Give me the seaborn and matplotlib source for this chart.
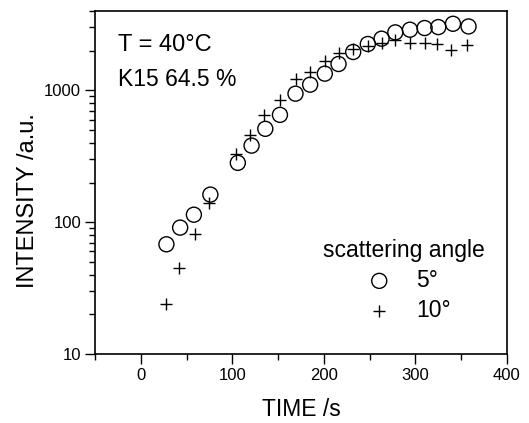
import matplotlib
matplotlib.use("Agg")
import matplotlib.pyplot as plt
from matplotlib.ticker import FixedLocator, NullFormatter, LogLocator
import seaborn as sns
import pandas as pd
import numpy as np

# data
time_5 = [28, 43, 58, 76, 106, 121, 136, 152, 169, 185, 201, 216, 232, 248, 263, 278, 294, 310, 325, 341, 358]
int_5 = [68, 91, 114, 162, 282, 381, 511, 652, 944, 1105, 1339, 1585, 1955, 2248, 2466, 2754, 2885, 2970, 3020, 3200, 3054]
time_10 = [28, 42, 59, 75, 104, 119, 135, 152, 169, 185, 201, 216, 232, 248, 263, 278, 294, 310, 324, 339, 356]
int_10 = [24, 45, 81, 140, 331, 461, 655, 850, 1219, 1369, 1679, 1919, 2060, 2183, 2287, 2393, 2287, 2287, 2260, 2010, 2193]
angle_labels = ["5°", "10°"]
x_ticks = [0, 100, 200, 300, 400]
y_ticks = [10, 100, 1000]

sns.set_theme(style="ticks")
plt.rcParams['font.family'] = ['Liberation Sans', 'DejaVu Sans']
plt.rcParams['text.color'] = 'black'
plt.rcParams['axes.labelcolor'] = 'black'

df5 = pd.DataFrame({"time": time_5, "intensity": int_5, "angle": angle_labels[0]})
df10 = pd.DataFrame({"time": time_10, "intensity": int_10, "angle": angle_labels[1]})

fig = plt.figure(figsize=(5.29, 4.23), dpi=100)
ax = fig.add_axes([0.1796, 0.163, 0.7788, 0.811])

sns.scatterplot(data=df5, x="time", y="intensity", marker="o", s=117,
                facecolors="none", edgecolor="black", linewidth=1.0, ax=ax,
                label=angle_labels[0])
sns.scatterplot(data=df10, x="time", y="intensity", marker="+", s=80,
                color="black", linewidth=1.0, ax=ax, label=angle_labels[1])

ax.set_yscale("log")
ax.set_xlim(-50, 400)
ax.set_ylim(10, 4000)

ax.xaxis.set_major_locator(FixedLocator(x_ticks))
ax.xaxis.set_minor_locator(FixedLocator([-50, 50, 150, 250, 350]))
ax.yaxis.set_major_locator(FixedLocator(y_ticks))
ax.yaxis.set_minor_locator(LogLocator(base=10, subs=np.arange(2, 10)))
ax.yaxis.set_minor_formatter(NullFormatter())
ax.set_yticklabels([str(v) for v in y_ticks])
ax.set_xticklabels([str(v) for v in x_ticks])

ax.tick_params(which="major", direction="out", length=7, width=1, colors="black",
               labelsize=12, pad=3)
ax.tick_params(which="minor", direction="out", length=4, width=1, colors="black")
for sp in ax.spines.values():
    sp.set_visible(True)
    sp.set_color("black")
    sp.set_linewidth(1.2)

ax.set_xlabel("TIME /s", fontsize=16.5)
ax.set_ylabel("INTENSITY /a.u.", fontsize=17)
ax.xaxis.set_label_coords(0.5, -0.128)
ax.yaxis.set_label_coords(-0.135, 0.446)

ax.text(0.055, 0.9, "T = 40°C", transform=ax.transAxes, fontsize=17, va="center", ha="left")
ax.text(0.055, 0.8, "K15 64.5 %", transform=ax.transAxes, fontsize=16.5, va="center", ha="left")

leg = ax.legend(title="scattering angle", loc="lower right", bbox_to_anchor=(0.995, 0.034),
                frameon=False, fontsize=16.5, title_fontsize=16.5, handletextpad=0.6,
                labelspacing=0.3, markerscale=1.0)
for h in leg.legend_handles:
    h.set_edgecolor("black")

fig.savefig("out.png", dpi=100)
